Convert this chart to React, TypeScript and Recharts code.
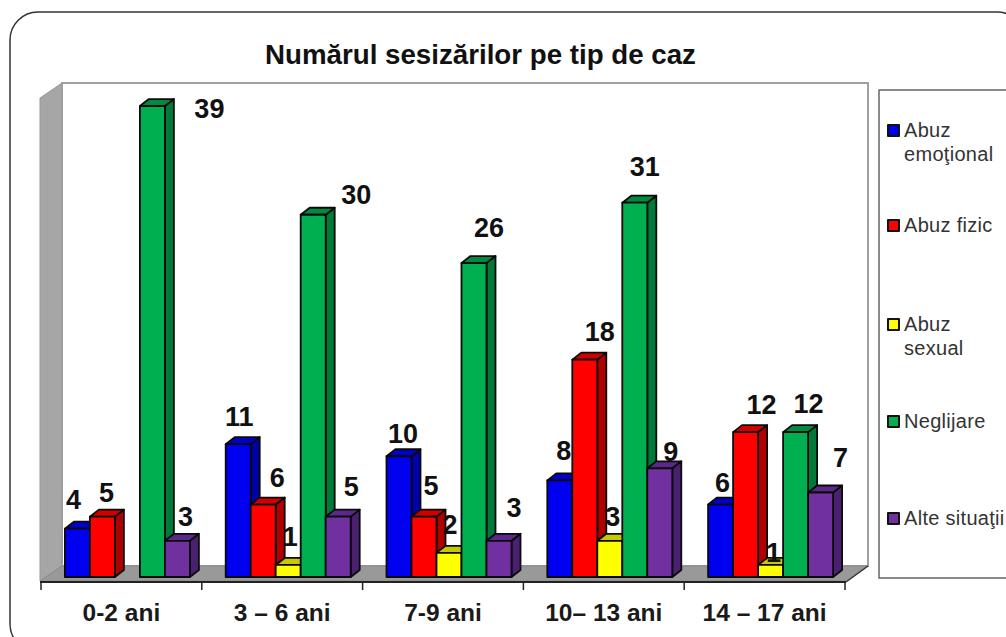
import React from "react";
import { BarChart, Bar, XAxis, YAxis, Legend, LabelList } from "recharts";

const categories = ["0-2 ani", "3 – 6 ani", "7-9 ani", "10– 13 ani", "14 – 17 ani"];
const abuzEmotional = [4, 11, 10, 8, 6];
const abuzFizic = [5, 6, 5, 18, 12];
const abuzSexual = [0, 1, 2, 3, 1];
const neglijare = [39, 30, 26, 31, 12];
const alteSituatii = [3, 5, 3, 9, 7];

const rows = categories.map((name, i) => ({
  name,
  emo: abuzEmotional[i],
  fiz: abuzFizic[i],
  sex: abuzSexual[i],
  neg: neglijare[i],
  alt: alteSituatii[i],
}));

const W = 1006, H = 637;
const LEFT = 41, RIGHT_END = 845, BASE = 577, AXIS_H = 30;
const CAT_W = (RIGHT_END - LEFT) / categories.length;
const SHIFT = 5, DX = 9, DY = 7;
const FONT = "'Liberation Sans', Arial, sans-serif";
const OUTLINE = "#0a0a0a";

const seriesStyle = [
  { key: "emo", name: "Abuz\nemoţional", front: "#0000f0", dark: "#0000a8", top: "#0000c8", legendTop: 118 },
  { key: "fiz", name: "Abuz fizic", front: "#ff0000", dark: "#b00000", top: "#d00000", legendTop: 213 },
  { key: "sex", name: "Abuz\nsexual", front: "#ffff00", dark: "#c8c800", top: "#c8c800", legendTop: 312 },
  { key: "neg", name: "Neglijare", front: "#00b050", dark: "#007a38", top: "#008a40", legendTop: 409 },
  { key: "alt", name: "Alte situaţii", front: "#7030a0", dark: "#4a2070", top: "#5a2888", legendTop: 506 },
];

// label nudges relative to the top-centre of each bar's front face, [dx, dy]
const labelNudge: Record<string, number[][]> = {
  emo: [[-4, -20], [1, -18], [4, -13], [4, -20], [2, -13]],
  fiz: [[4, -15], [14, -18], [7, -22], [15, -19], [16, -18]],
  sex: [[0, 0], [2, -19], [1, -19], [3, -15], [3, -3]],
  neg: [[57, 12], [43, -11], [15, -26], [10, -27], [13, -19]],
  alt: [[8, -15], [13, -21], [15, -24], [11, -7], [20, -25]],
};

function Bar3D(props: any) {
  const { x, y, width, height, front, dark, top } = props;
  if (!height || height <= 0) return null;
  const l = x + SHIFT, r = l + width, b = y + height;
  return (
    <g stroke={OUTLINE} strokeWidth={1.8} strokeLinejoin="round">
      <polygon points={`${r},${y} ${r + DX},${y - DY} ${r + DX},${b - DY} ${r},${b}`} fill={dark} />
      <polygon points={`${l},${y} ${l + DX},${y - DY} ${r + DX},${y - DY} ${r},${y}`} fill={top} />
      <rect x={l} y={y} width={width} height={height} fill={front} />
    </g>
  );
}

function makeLabel(seriesKey: string) {
  return (props: any) => {
    const { x, y, width, value, index } = props;
    if (!value) return null;
    const [dx, dy] = labelNudge[seriesKey][index];
    return (
      <text
        x={x + SHIFT + width / 2 + dx}
        y={y + dy}
        textAnchor="middle"
        fontFamily={FONT}
        fontWeight="bold"
        fontSize={27}
        fill="#111"
      >
        {value}
      </text>
    );
  };
}

function CategoryTick(props: any) {
  const { x, payload, index } = props;
  const edge = x - CAT_W / 2;
  return (
    <g>
      <line x1={edge} x2={edge} y1={582} y2={590} stroke="#222" strokeWidth={1.5} />
      {index === categories.length - 1 && (
        <line x1={edge + CAT_W} x2={edge + CAT_W} y1={582} y2={590} stroke="#222" strokeWidth={1.5} />
      )}
      <text x={x} y={621} textAnchor="middle" fontFamily={FONT} fontWeight="bold" fontSize={24.5} fill="#1a1a1a">
        {payload.value}
      </text>
    </g>
  );
}

function LegendBox() {
  return (
    <div style={{ position: "relative", width: 127, height: 488, fontFamily: FONT, fontSize: 20, color: "#333" }}>
      {seriesStyle.map((s) => (
        <div key={s.key} style={{ position: "absolute", left: 8, top: s.legendTop - 90, display: "flex" }}>
          <div
            style={{
              width: 9,
              height: 9,
              marginTop: 6,
              marginRight: 4,
              background: s.front,
              border: "2px solid #111",
              borderRadius: 1,
              flexShrink: 0,
            }}
          />
          <div style={{ whiteSpace: "pre-line", lineHeight: "24px", letterSpacing: 0.3 }}>{s.name}</div>
        </div>
      ))}
    </div>
  );
}

function Backdrop() {
  return (
    <svg width={W} height={H} style={{ position: "absolute", left: 0, top: 0 }}>
      <rect x={10} y={12} width={1015} height={640} rx={28} ry={28} fill="#fff" stroke="#333" strokeWidth={1.5} />
      <text x={480.5} y={64} textAnchor="middle" fontFamily={FONT} fontWeight="bold" fontSize={27.7} fill="#111">
        Numărul sesizărilor pe tip de caz
      </text>
      <polygon points="62,83 868,83 868,566 62,566" fill="#fff" stroke="#a0a0a0" strokeWidth={2} />
      <polygon points="40,98 62,83 62,566 40,581" fill="#a6a6a6" stroke="#999" strokeWidth={1} />
      <polygon points="40,581 62,566 868,566 846,581" fill="#999999" stroke="#8a8a8a" strokeWidth={1} />
      <rect x={40} y={581} width={806} height={2} fill="#222" />
      <line x1={846} y1={582} x2={868} y2={566} stroke="#333" strokeWidth={1.5} />
      <rect x={879} y={90} width={140} height={488} fill="#fff" stroke="#666" strokeWidth={1.5} />
    </svg>
  );
}

export default function App() {
  return (
    <div style={{ position: "absolute", left: 0, top: 0, width: W, height: H, overflow: "hidden", background: "#fff" }}>
      <Backdrop />
      <div style={{ position: "absolute", left: 0, top: 0 }}>
        <BarChart
          width={W}
          height={H}
          data={rows}
          margin={{ top: 94, right: W - RIGHT_END, bottom: H - BASE - AXIS_H, left: LEFT }}
          barCategoryGap="11.75%"
          barGap={0}
        >
          <XAxis dataKey="name" height={AXIS_H} axisLine={false} tickLine={false} tick={<CategoryTick />} interval={0} />
          <YAxis hide domain={[0, 40]} />
          {seriesStyle.map((s) => (
            <Bar
              key={s.key}
              dataKey={s.key}
              name={s.name}
              fill={s.front}
              isAnimationActive={false}
              shape={(p: any) => <Bar3D {...p} front={s.front} dark={s.dark} top={s.top} />}
            >
              <LabelList dataKey={s.key} content={makeLabel(s.key)} />
            </Bar>
          ))}
          <Legend
            layout="horizontal"
            align="center"
            verticalAlign="middle"
            content={<LegendBox />}
            wrapperStyle={{ position: "absolute", left: 879, top: 90, width: 127, height: 488, bottom: "auto", right: "auto" }}
          />
        </BarChart>
      </div>
    </div>
  );
}
